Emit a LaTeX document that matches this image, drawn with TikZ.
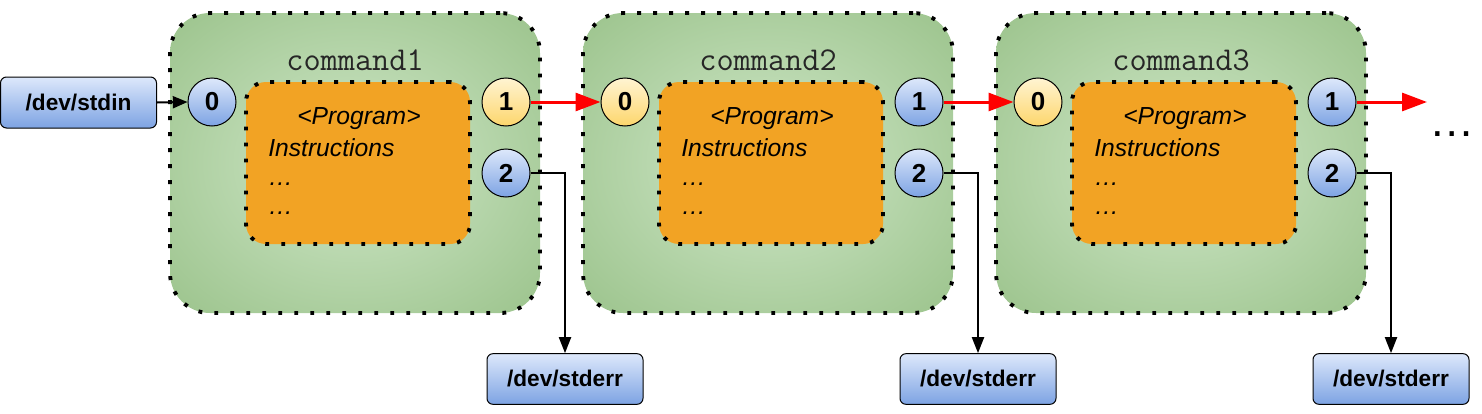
\documentclass[tikz,border=0pt]{standalone}
\usepackage{fontspec}
\setmainfont{Liberation Sans}
\usetikzlibrary{arrows.meta}
\definecolor{gin}{HTML}{BEDBB4}
\definecolor{gout}{HTML}{9EC58F}
\definecolor{orng}{HTML}{F2A324}
\definecolor{btop}{HTML}{DDE8FB}
\definecolor{bbot}{HTML}{7DA3E3}
\definecolor{ytop}{HTML}{FFF4D2}
\definecolor{ybot}{HTML}{FDD66C}
\definecolor{redline}{HTML}{FF0000}
\pgfdeclareradialshading{greenrad}{\pgfpoint{0bp}{0bp}}{color(0bp)=(gin); color(12bp)=(gin); color(34bp)=(gout); color(50bp)=(gout)}
\begin{document}
\begin{tikzpicture}[x=0.75pt,y=-0.75pt,
  dotborder/.style={draw=black, line width=2.9pt, line cap=butt, dash pattern=on 2.9pt off 9.1pt},
  cmdbox/.style={dotborder, shading=greenrad, rounded corners=30pt, minimum width=277.5pt, minimum height=225pt, inner sep=0pt},
  progbox/.style={dotborder, fill=orng, rounded corners=15pt, minimum width=168pt, minimum height=121.5pt, inner sep=0pt},
  cmdlabel/.style={font=\ttfamily\fontsize{25pt}{27pt}\selectfont, text=black!85},
  progtext/.style={font=\fontsize{18.5pt}{20pt}\selectfont\itshape, inner sep=0pt},
  ball/.style={circle, draw=black, line width=0.75pt, minimum size=36pt, inner sep=0pt, font=\fontsize{19.5pt}{21pt}\selectfont\bfseries},
  bball/.style={ball, top color=btop, bottom color=bbot},
  yball/.style={ball, top color=ytop, bottom color=ybot},
  iobox/.style={draw=black, line width=0.75pt, rounded corners=4.5pt, top color=btop, bottom color=bbot, minimum width=117pt, minimum height=38pt, inner sep=0pt, font=\fontsize{17pt}{19pt}\selectfont\bfseries},
  redarrow/.style={draw=redline, line width=2.25pt, -{Triangle[length=18.75pt,width=13.5pt]}},
  blkarrow/.style={draw=black, line width=1.5pt, -{Triangle[length=11pt,width=9pt]}},
  errarrow/.style={draw=black, line width=1.5pt, -{Triangle[length=12pt,width=9pt]}}
]
\useasboundingbox (0,0) rectangle (1482,414);
\foreach \i/\dx/\ic/\oc in {1/0/bball/yball, 2/413/yball/bball, 3/826/yball/bball}{
  \node[cmdbox] (g\i) at (355+\dx,163) {};
  \node[cmdlabel] (t\i) at (355+\dx,60) {command\i};
  \node[progbox] (p\i) at (358+\dx,163) {};
  \node[progtext] (pt\i) at (359+\dx,119) {<Program>};
  \node[progtext, anchor=west] (pi\i) at (268+\dx,148) {Instructions};
  \node[progtext, anchor=west] (pa\i) at (268+\dx,184) {…};
  \node[progtext, anchor=west] (pb\i) at (268+\dx,213) {…};
  \node[\ic] (in\i) at (212+\dx,102) {0};
  \node[\oc] (out\i) at (506+\dx,102) {1};
  \node[bball] (err\i) at (506+\dx,173) {2};
  \node[iobox] (e\i) at (565+\dx,379) {/dev/stderr};
  \draw[errarrow] (err\i.east) -| (e\i.north);
}
\node[iobox, minimum height=51*0.75pt] (stdin) at (78.5,102.5) {/dev/stdin};
\draw[blkarrow] (stdin.east) -- (in1.west);
\draw[redarrow] (out1.east) -- (in2.west);
\draw[redarrow] (out2.east) -- (in3.west);
\coordinate (endp) at (1427,102);
\draw[redarrow] (out3.east) -- (endp);
\node[font=\fontsize{34pt}{36pt}\selectfont, anchor=base, inner sep=0pt] (more) at (1452,136) {…};
\end{tikzpicture}
\end{document}
